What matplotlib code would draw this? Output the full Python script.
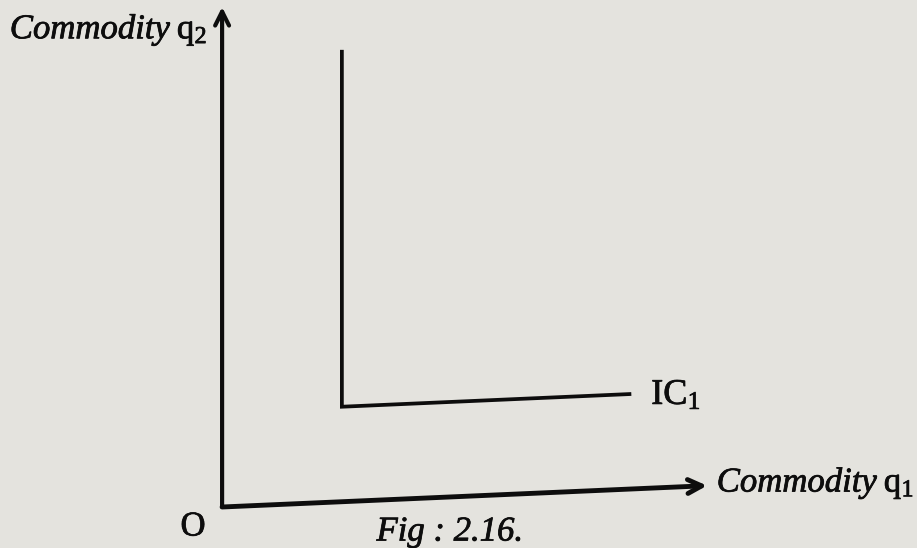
import matplotlib.pyplot as plt
import matplotlib.patheffects as pe
from matplotlib.transforms import Affine2D

# axis extents (commodity units)
q1_max = 10.0
q2_max = 10.0

# L-shaped indifference curve (perfect complements)
ic_q1 = [2.47, 2.47, 8.4]
ic_q2 = [9.0, 1.9, 1.9]

x_label = r"$\mathit{Commodity}\;\mathrm{q}_{\mathrm{1}}$"
y_label = r"$\mathit{Commodity}\;\mathrm{q}_{\mathrm{2}}$"
ic_label = r"$\mathrm{IC}_{\mathrm{1}}$"
fig_caption = "Fig : 2.16."

paper = "#e4e3de"
ink = "#0d0d0d"

plt.rcParams["mathtext.fontset"] = "custom"
plt.rcParams["mathtext.rm"] = "Liberation Serif"
plt.rcParams["mathtext.it"] = "Liberation Serif:italic"

fig = plt.figure(figsize=(9.17, 5.48), dpi=100, facecolor=paper)
ax = fig.add_axes([0, 0, 1, 1])
ax.set_facecolor(paper)
ax.set_xlim(-4.58, 14.33)
ax.set_ylim(-0.82, 10.14)
ax.axis("off")

# the printed page is slightly skewed: horizontals rise to the right
k = 0.044 * 48.5 / 50
skew = Affine2D().from_values(1, k, 0, 1, 0, 0) + ax.transData

arrow = dict(arrowstyle="->,head_length=1.0,head_width=0.5", lw=3.5,
             color=ink, shrinkA=0, shrinkB=0)
ax.annotate("", xy=(q1_max, 0), xytext=(0, 0), xycoords=skew,
            textcoords=skew, arrowprops=arrow)
ax.annotate("", xy=(0, q2_max), xytext=(0, 0), xycoords=skew,
            textcoords=skew, arrowprops=dict(arrow, lw=3.0))

ax.plot(ic_q1, ic_q2, color=ink, lw=2.7, solid_joinstyle="miter",
        transform=skew)

# heavier print look for the lettering
bold_ink = [pe.withStroke(linewidth=0.55, foreground=ink)]
txt = dict(family="Liberation Serif", fontsize=25, color=ink,
           path_effects=bold_ink)

ax.text(q1_max + 0.2, 0.05, x_label, transform=skew, va="center",
        ha="left", **txt)
ax.text(-0.3, q2_max - 0.45, y_label, va="center", ha="right", **txt)
ax.text(ic_q1[-1] + 0.45, ic_q2[-1] - 0.05, ic_label, transform=skew,
        va="center", ha="left", **dict(txt, fontsize=26))
ax.text(-0.6, -0.4, "O", va="center", ha="center", **txt)
ax.text(4.7, -0.5, fig_caption, style="italic", va="center", ha="center",
        **txt)

fig.savefig("out.png", dpi=100, facecolor=paper)
